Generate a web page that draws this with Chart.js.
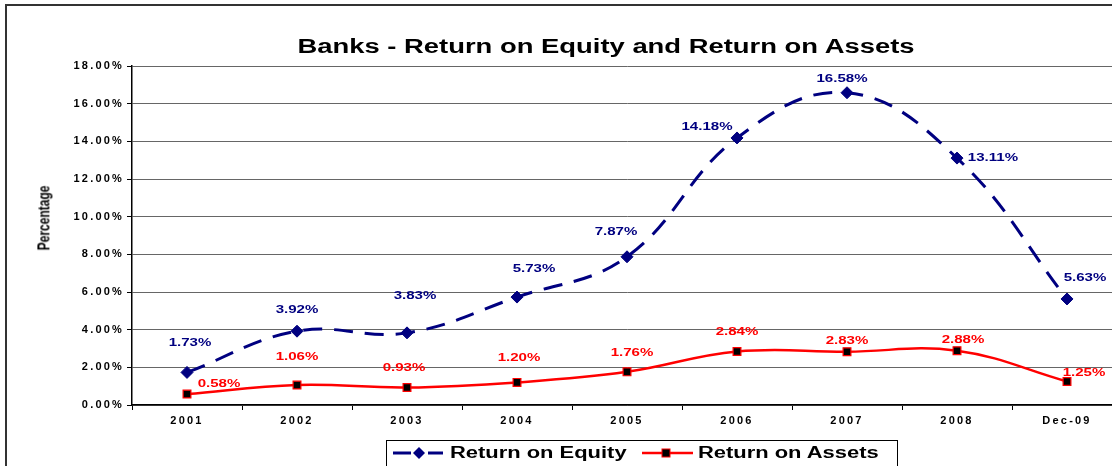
<!DOCTYPE html>
<html>
<head>
<meta charset="utf-8">
<script src="https://cdn.jsdelivr.net/npm/chart.js@4.4.1/dist/chart.umd.min.js"></script>
<style>
  html, body { margin: 0; padding: 0; background: #fff; overflow: hidden; width: 1112px; height: 466px; }
  #frame { position: absolute; left: 5px; top: 4px; width: 1200px; height: 520px; border: 2px solid #333; }
  #cv { position: absolute; left: 0; top: 0; }
  .t { position: absolute; font-family: "Liberation Sans", Arial, sans-serif; font-weight: bold; color: #000; white-space: nowrap; }
  #title { left: 606px; top: 36px; font-size: 20px; line-height: 20px; transform: translateX(-50%) scaleX(1.37); }
  #ytitle { left: 44px; top: 218px; font-size: 12px; line-height: 12px; transform: translate(-50%, -50%) scaleX(1.37) rotate(-90deg); }
  #legend { position: absolute; left: 386px; top: 440px; width: 510px; height: 40px; border: 1.5px solid #000; }
  .lg { font-size: 16px; line-height: 16px; top: 445px; transform-origin: left center; transform: scaleX(1.37); }
  #keys { position: absolute; left: 0; top: 0; }
</style>
</head>
<body>
<div id="frame"></div>
<canvas id="cv" width="1130" height="466"></canvas>
<div class="t" id="title">Banks - Return on Equity and Return on Assets</div>
<div class="t" id="ytitle">Percentage</div>
<div id="legend"></div>
<svg id="keys" width="1112" height="466">
  <line x1="393" y1="453" x2="411" y2="453" stroke="#000080" stroke-width="3"/>
  <line x1="428" y1="453" x2="443" y2="453" stroke="#000080" stroke-width="3"/>
  <polygon points="413,453 419,447 425,453 419,459" fill="#000080"/>
  <line x1="642" y1="453" x2="693" y2="453" stroke="#ff0000" stroke-width="2.5"/>
  <rect x="662" y="449" width="8" height="8" fill="#000" stroke="#ff0000" stroke-width="1"/>
</svg>
<div class="t lg" style="left:450px">Return on Equity</div>
<div class="t lg" style="left:698px">Return on Assets</div>

<script>
/* ── Données (en %) ── */
const YEARS = ['2001', '2002', '2003', '2004', '2005', '2006', '2007', '2008', 'Dec-09'];
const ROE   = [1.73, 3.92, 3.83, 5.73, 7.87, 14.18, 16.58, 13.11, 5.63];
const ROA   = [0.58, 1.06, 0.93, 1.20, 1.76, 2.84, 2.83, 2.88, 1.25];
const Y_MAX = 18, Y_STEP = 2;

// décalage des étiquettes par rapport au point (px)
const ROE_OFF = [[3,-29],[0,-21],[8,-37],[17,-28],[-11,-25],[-30,-11],[-5,-14],[36,0],[18,-21]];
const ROA_OFF = [[32,-10],[0,-28],[-3,-20],[2,-24],[5,-19],[0,-20],[0,-11],[6,-11],[17,-8]];

const FONT = '"Liberation Sans", Arial, sans-serif';

const spacing = {
  id: 'spacing',
  beforeUpdate: c => { c.ctx.letterSpacing = '2.2px'; },
  beforeDraw:   c => { c.ctx.letterSpacing = '2.2px'; },
};

const labels = {
  id: 'labels',
  afterDatasetsDraw(chart) {
    const ctx = chart.ctx;
    const offs = [ROE_OFF, ROA_OFF];
    const cols = ['#000080', '#ff0000'];
    chart.data.datasets.forEach((ds, di) => {
      const meta = chart.getDatasetMeta(di);
      meta.data.forEach((pt, i) => {
        const [dx, dy] = offs[di][i];
        ctx.save();
        ctx.letterSpacing = '0px';
        ctx.font = 'bold 11px ' + FONT;
        ctx.fillStyle = cols[di];
        ctx.textAlign = 'center';
        ctx.textBaseline = 'middle';
        ctx.translate(pt.x + dx, pt.y + dy);
        ctx.scale(1.37, 1);
        ctx.fillText(ds.data[i].toFixed(2) + '%', 0, 0);
        ctx.restore();
      });
    });
  },
};

const tickFont = { family: FONT, size: 11, weight: 'bold' };

new Chart(document.getElementById('cv'), {
  type: 'line',
  data: {
    labels: YEARS,
    datasets: [
      {
        label: 'Return on Equity',
        data: ROE,
        borderColor: '#000080',
        borderWidth: 3,
        borderDash: [19, 12],
        pointStyle: 'rectRot',
        pointRadius: 6,
        pointBackgroundColor: '#000080',
        pointBorderColor: '#000080',
        pointBorderWidth: 1,
        tension: 0.4,
        fill: false,
      },
      {
        label: 'Return on Assets',
        data: ROA,
        borderColor: '#ff0000',
        borderWidth: 2.5,
        pointStyle: 'rect',
        pointRadius: 5.5,
        pointBackgroundColor: '#000',
        pointBorderColor: '#ff0000',
        pointBorderWidth: 1.2,
        tension: 0.4,
        fill: false,
      },
    ],
  },
  options: {
    responsive: false,
    animation: false,
    devicePixelRatio: 1,
    layout: { padding: { left: 20, top: 66, right: 8, bottom: 31 } },
    plugins: { legend: { display: false }, title: { display: false }, tooltip: { enabled: false } },
    scales: {
      x: {
        offset: true,
        grid: { offset: true, drawOnChartArea: false, tickLength: 5, color: '#000' },
        border: { color: '#000', width: 1.5 },
        ticks: { color: '#000', font: tickFont, padding: 4, maxRotation: 0 },
        afterFit: s => { s.height = 30; },
      },
      y: {
        min: 0, max: Y_MAX,
        grid: { color: '#666', tickColor: '#000', tickLength: 5, lineWidth: 1 },
        border: { color: '#000', width: 1.5 },
        ticks: { stepSize: Y_STEP, color: '#000', font: tickFont, padding: 3,
                 callback: v => v.toFixed(2) + '%' },
        afterFit: s => { s.width = 112; },
      },
    },
  },
  plugins: [spacing, labels],
});
</script>
</body>
</html>
